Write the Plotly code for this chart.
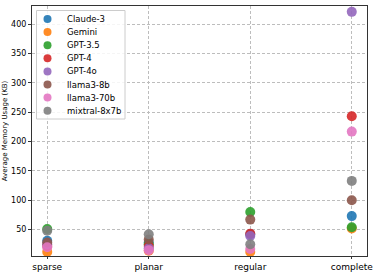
import plotly.graph_objects as go

categories = ["sparse", "planar", "regular", "complete"]
models = ["Claude-3", "Gemini", "GPT-3.5", "GPT-4", "GPT-4o", "llama3-8b", "llama3-70b", "mixtral-8x7b"]
claude3 = [31, 28, 42, 73]
gemini = [12, 14, 12, 52]
gpt35 = [51, 25, 80, 54]
gpt4 = [22, 22, 43, 243]
gpt4o = [25, 18, 39, 421]
llama3_8b = [28, 33, 67, 100]
llama3_70b = [20, 15, 17, 217]
mixtral = [48, 42, 25, 133]
series = [claude3, gemini, gpt35, gpt4, gpt4o, llama3_8b, llama3_70b, mixtral]
colors = ["#1f77b4", "#ff7f0e", "#2ca02c", "#d62728", "#9467bd", "#8c564b", "#e377c2", "#7f7f7f"]

W, H = 374, 273
ML, MR, MT, MB = 32, 7, 6, 17
PW, PH = W - ML - MR, H - MT - MB

def px_x(p):
    return (p - ML) / PW

def px_y(p):
    return 1 - (p - MT) / PH

fig = go.Figure()
for name, vals, c in zip(models, series, colors):
    fig.add_trace(go.Scatter(x=categories, y=vals, mode="markers", name=name, showlegend=False,
                             marker=dict(color=c, size=10, opacity=0.9, line=dict(width=0))))

# legend box (matplotlib-style), drawn in the top-left corner
shapes = [dict(type="rect", xref="paper", yref="paper", layer="above",
               x0=px_x(36.5), x1=px_x(125), y0=px_y(119), y1=px_y(10.5),
               fillcolor="rgba(255,255,255,0.85)", line=dict(color="#cccccc", width=1))]
annotations = []
row_h = 13.1
for i, (name, c) in enumerate(zip(models, colors)):
    cy = 19 + i * row_h
    shapes.append(dict(type="circle", xref="paper", yref="paper", layer="above",
                       xsizemode="pixel", ysizemode="pixel",
                       xanchor=px_x(47.5), yanchor=px_y(cy),
                       x0=-4, x1=4, y0=-4, y1=4,
                       fillcolor=c, opacity=0.9, line=dict(width=0)))
    annotations.append(dict(text=name, xref="paper", yref="paper", x=px_x(65), y=px_y(cy),
                            xanchor="left", yanchor="middle", showarrow=False,
                            font=dict(size=8.5, color="black")))

fig.update_layout(
    width=W, height=H,
    margin=dict(l=ML, r=MR, t=MT, b=MB, autoexpand=False),
    paper_bgcolor="white", plot_bgcolor="white",
    font=dict(family="DejaVu Sans", color="black", size=8),
    showlegend=False,
    shapes=shapes, annotations=annotations,
)
fig.update_xaxes(type="category", categoryorder="array", categoryarray=categories,
                 range=[-0.15, 3.15], showgrid=True, gridcolor="#bdbdbd", griddash="3px,2px",
                 gridwidth=0.8, showline=True, linecolor="#333333", linewidth=1, mirror=True,
                 ticks="outside", ticklen=2, tickcolor="#333333", tickfont=dict(size=9),
                 zeroline=False, automargin=False)
fig.update_yaxes(range=[5, 431], tickvals=[50, 100, 150, 200, 250, 300, 350, 400],
                 showgrid=True, gridcolor="#bdbdbd", griddash="3px,2px", gridwidth=0.8,
                 showline=True, linecolor="#333333", linewidth=1, mirror=True,
                 ticks="outside", ticklen=3, tickcolor="#333333", tickfont=dict(size=8),
                 zeroline=False, automargin=False,
                 title=dict(text="Average Memory Usage (KB)", font=dict(size=7), standoff=2))

fig.write_html("out.html", config={"displayModeBar": False},
               post_script="document.body.style.margin='0';document.body.style.padding='0';")
